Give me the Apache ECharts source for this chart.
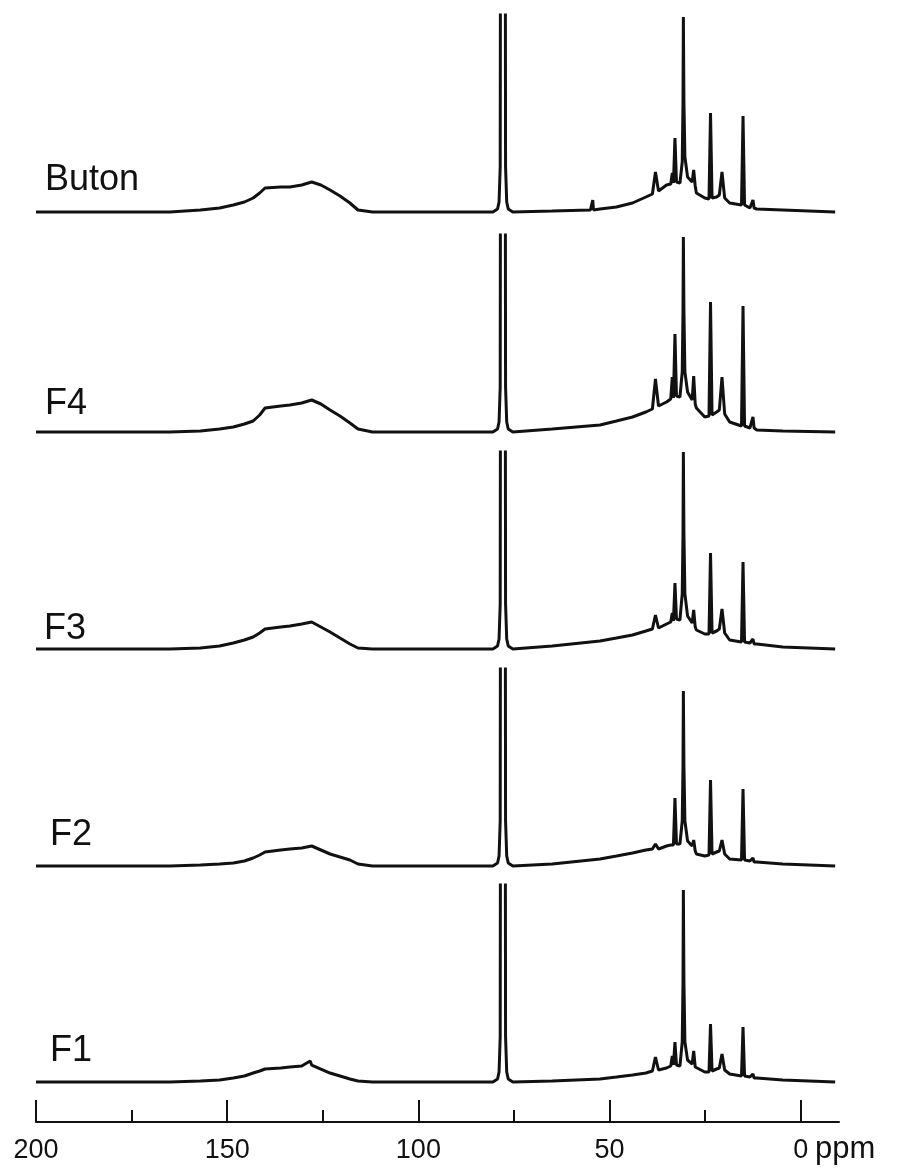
<!DOCTYPE html>
<html>
<head>
<meta charset="utf-8">
<script src="https://cdn.jsdelivr.net/npm/echarts@6/dist/echarts.min.js"></script>
<style>
  html, body { margin: 0; padding: 0; background: #fff; }
  #chart { width: 897px; height: 1175px; }
</style>
</head>
<body>
<div id="chart"></div>
<script>
// 13C NMR 叠加谱: 每条谱 [ppm, 强度]，强度 0 为各自基线
const sampleNames = ['Buton', 'F4', 'F3', 'F2', 'F1']

const butonData = [
  [200, 0], [185, 0], [165, 0], [157, 2], [152, 4], [148.4, 7], [145.5, 10], [143.2, 14], [141.5, 19], [140.1, 24],
  [136, 25], [133.6, 25], [130.5, 27], [127.9, 30], [125.5, 27], [123.1, 22], [120.5, 16], [117.9, 9], [115.8, 2], [112, 0], [95, 0],
  [80.5, 0], [79.3, 3], [78.9, 10], [78.6, 45], [78.5, 400], [77.3, 400], [77.2, 45], [76.9, 10], [76.5, 3], [75.3, 0],
  [65, 1], [55, 2], [54.6, 2], [54.4, 12], [54.2, 2], [52.5, 3], [48.2, 5], [44, 9], [40.5, 15],
  [38.8, 18], [38.0, 40], [37.2, 21], [35.1, 27], [34.0, 28], [33.6, 39], [33.3, 29], [32.9, 74], [32.5, 30],
  [31.6, 29], [31.0, 50], [30.8, 110], [30.7, 195], [30.55, 110], [30.3, 55], [29.6, 35],
  [28.4, 30], [28.0, 42], [27.6, 26], [27.3, 19], [25.1, 14], [24.0, 13], [23.6, 99], [23.2, 14],
  [22.0, 15], [21.3, 17], [20.6, 40], [19.9, 14], [18.6, 9], [15.5, 7], [15.1, 96], [14.7, 7],
  [13.3, 4], [12.8, 5], [12.5, 12], [12.2, 4], [11.5, 3], [4.7, 2], [-9, 0]
]

const f4Data = [
  [200, 0], [185, 0], [165, 0], [157, 1], [152, 3], [148.4, 5], [145.5, 8], [143.2, 11], [141.5, 17], [140.1, 24],
  [136, 26], [133.6, 27], [130.5, 29], [127.9, 32], [125.5, 28], [123.1, 22], [120.5, 16], [117.9, 9], [115.8, 3], [112, 0], [95, 0],
  [80.5, 0], [79.3, 3], [78.9, 10], [78.6, 45], [78.5, 400], [77.3, 400], [77.2, 45], [76.9, 10], [76.5, 3], [75.3, 0],
  [65, 3], [52.5, 7], [48.2, 11], [44, 15], [40.5, 20],
  [38.8, 23], [38.0, 53], [37.2, 26], [35.1, 30], [34.0, 33], [33.6, 55], [33.3, 34], [32.9, 98], [32.5, 36],
  [31.6, 35], [31.0, 60], [30.8, 120], [30.7, 195], [30.55, 120], [30.3, 60], [29.6, 40],
  [28.4, 32], [28.0, 56], [27.6, 28], [27.3, 24], [25.1, 15], [24.0, 16], [23.6, 130], [23.2, 17],
  [22.0, 20], [21.3, 22], [20.6, 55], [19.9, 18], [18.6, 10], [15.5, 6], [15.1, 126], [14.7, 6],
  [13.3, 4], [12.8, 5], [12.5, 15], [12.2, 4], [11.5, 2], [4.7, 1], [-9, 0]
]

const f3Data = [
  [200, 0], [185, 0], [165, 0], [157, 1], [152, 3], [148.4, 6], [145.5, 9], [143.2, 12], [141.5, 16], [140.1, 20],
  [136, 22], [133.6, 23], [130.5, 25], [127.9, 27], [125.5, 22], [123.1, 17], [120.5, 11], [117.9, 5], [115.8, 1], [112, 0], [95, 0],
  [80.5, 0], [79.3, 3], [78.9, 10], [78.6, 45], [78.5, 400], [77.3, 400], [77.2, 45], [76.9, 10], [76.5, 3], [75.3, 0],
  [65, 3], [52.5, 8], [48.2, 11], [44, 14], [40.5, 18],
  [38.8, 20], [38.0, 34], [37.2, 21], [35.1, 25], [34.0, 27], [33.6, 36], [33.3, 28], [32.9, 66], [32.5, 30],
  [31.6, 29], [31.0, 55], [30.8, 115], [30.7, 197], [30.55, 115], [30.3, 55], [29.6, 33],
  [28.4, 26], [28.0, 39], [27.6, 22], [27.3, 19], [25.1, 15], [24.0, 15], [23.6, 96], [23.2, 16],
  [22.0, 18], [21.3, 20], [20.6, 40], [19.9, 16], [18.6, 9], [15.5, 7], [15.1, 87], [14.7, 7],
  [13.3, 6], [12.8, 6], [12.5, 10], [12.2, 5], [11.5, 5], [4.7, 2], [-9, 0]
]

const f2Data = [
  [200, 0], [185, 0], [165, 0], [157, 1], [152, 2], [148.4, 3], [145.5, 5], [143.2, 8], [141.5, 11], [140.1, 14],
  [136, 16], [133.6, 17], [130.5, 18], [127.9, 20], [125.5, 16], [123.1, 12], [120.5, 9], [117.9, 6], [115.8, 2], [112, 0], [95, 0],
  [80.5, 0], [79.3, 3], [78.9, 10], [78.6, 45], [78.5, 400], [77.3, 400], [77.2, 45], [76.9, 10], [76.5, 3], [75.3, 0],
  [65, 2], [52.5, 7], [48.2, 10], [44, 13], [40.5, 16],
  [38.8, 17], [38.0, 22], [37.2, 17], [35.1, 20], [34.0, 21], [33.6, 23], [33.3, 21], [32.9, 68], [32.5, 22],
  [31.6, 22], [31.0, 45], [30.8, 100], [30.7, 175], [30.55, 100], [30.3, 45], [29.6, 25],
  [28.4, 20], [28.0, 26], [27.6, 15], [27.3, 12], [25.1, 10], [24.0, 11], [23.6, 86], [23.2, 12],
  [22.0, 14], [21.3, 15], [20.6, 26], [19.9, 12], [18.6, 7], [15.5, 6], [15.1, 77], [14.7, 6],
  [13.3, 5], [12.8, 5], [12.5, 8], [12.2, 4], [11.5, 4], [4.7, 2], [-9, 0]
]

const f1Data = [
  [200, 0], [185, 0], [165, 0], [157, 1], [152, 2], [148.4, 4], [145.5, 6], [143.2, 9], [141.5, 11], [140.1, 13],
  [136, 14], [133.6, 15], [130.5, 16], [128.3, 21], [127.9, 17], [125.5, 13], [123.1, 9], [120.5, 6], [117.9, 3], [115.8, 1], [112, 0], [95, 0],
  [80.5, 0], [79.3, 3], [78.9, 10], [78.6, 45], [78.5, 400], [77.3, 400], [77.2, 45], [76.9, 10], [76.5, 3], [75.3, 0],
  [65, 1], [52.5, 3], [48.2, 5], [44, 7], [40.5, 9],
  [38.8, 11], [38.0, 25], [37.2, 12], [35.1, 14], [34.0, 16], [33.6, 26], [33.3, 17], [32.9, 40], [32.5, 17],
  [31.6, 16], [31.0, 40], [30.8, 100], [30.7, 192], [30.55, 100], [30.3, 40], [29.6, 22],
  [28.4, 18], [28.0, 31], [27.6, 15], [27.3, 13], [25.1, 10], [24.0, 10], [23.6, 58], [23.2, 11],
  [22.0, 13], [21.3, 14], [20.6, 28], [19.9, 12], [18.6, 8], [15.5, 6], [15.1, 55], [14.7, 6],
  [13.3, 5], [12.8, 5], [12.5, 8], [12.2, 4], [11.5, 4], [4.7, 2], [-9, 0]
]

const spectra = [butonData, f4Data, f3Data, f2Data, f1Data]
const majorTicks = [200, 150, 100, 50, 0]
const minorTicks = [175, 125, 75, 25]

// 每条谱的基线像素位置 (页面坐标)
const baselines = [212, 432, 649, 866, 1082]
const Y_MIN = -10
const Y_MAX = 197
const last = baselines.length - 1

const chart = echarts.init(document.getElementById('chart'))

const grids = baselines.map(b => ({
  left: 36,
  right: 58,
  top: b - Y_MAX,
  height: Y_MAX - Y_MIN,
  outerBoundsMode: 'none'
}))

const xAxes = baselines.map((b, i) => ({
  type: 'value',
  gridIndex: i,
  min: -10,
  max: 200,
  inverse: true,
  show: i === last,
  position: 'bottom',
  offset: 30,
  axisLine: { onZero: false, lineStyle: { color: '#111', width: 2 } },
  axisTick: { inside: true, length: 22, customValues: majorTicks, lineStyle: { color: '#111', width: 2 } },
  axisLabel: {
    customValues: majorTicks,
    color: '#111',
    fontSize: 27,
    fontFamily: 'Liberation Sans',
    margin: 15
  },
  splitLine: { show: false }
}))

// 次刻度 (175, 125, 75, 25)
xAxes.push({
  type: 'value',
  gridIndex: last,
  min: -10,
  max: 200,
  inverse: true,
  position: 'bottom',
  offset: 30,
  axisLine: { show: false, onZero: false },
  axisTick: { inside: true, length: 12, customValues: minorTicks, lineStyle: { color: '#111', width: 2 } },
  axisLabel: { show: false },
  splitLine: { show: false }
})

const yAxes = baselines.map((b, i) => ({
  type: 'value',
  gridIndex: i,
  min: Y_MIN,
  max: Y_MAX,
  show: false
}))

const labelCenters = [180, 404, 629, 835, 1051]
const labelLefts = [45, 45, 44, 50, 50]

chart.setOption({
  animation: false,
  backgroundColor: '#fff',
  grid: grids,
  xAxis: xAxes,
  yAxis: yAxes,
  series: spectra.map((d, i) => ({
    name: sampleNames[i],
    type: 'line',
    xAxisIndex: i,
    yAxisIndex: i,
    data: d,
    showSymbol: false,
    clip: true,
    lineStyle: { color: '#111', width: 3 }
  })),
  graphic: [
    ...sampleNames.map((n, i) => ({
      type: 'text',
      left: labelLefts[i],
      top: labelCenters[i] - 18,
      style: { text: n, fill: '#111', font: '36px "Liberation Sans", Arial, sans-serif' }
    })),
    {
      type: 'text',
      left: 815,
      top: 1134,
      style: { text: 'ppm', fill: '#111', font: '31px "Liberation Sans", Arial, sans-serif' }
    }
  ]
})
</script>
</body>
</html>
